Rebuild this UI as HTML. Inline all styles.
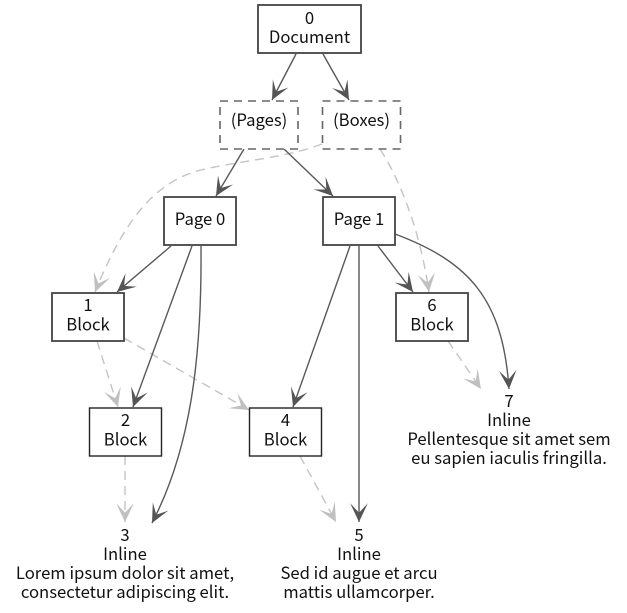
<!DOCTYPE html>
<html><head><meta charset="utf-8"><style>
html,body{margin:0;padding:0;background:#fff}
svg{display:block}
text{font-family:"Noto Sans CJK JP","Liberation Sans",sans-serif;font-size:16.67px;text-anchor:middle;fill:#111}
.e{fill:none;stroke:#595959;stroke-width:1.4}
.d{fill:none;stroke:#c4c4c4;stroke-width:1.4;stroke-dasharray:9 6}
.n{fill:#fff;stroke:#444;stroke-width:1.8}
.k{fill:#fff;stroke:#222;stroke-width:1.4}
.g{fill:#fff;stroke:#666;stroke-width:1.6;stroke-dasharray:8 6}
</style></head><body>
<svg width="627" height="613" viewBox="0 0 627 613" xmlns="http://www.w3.org/2000/svg">
<defs>
<marker id="a" markerUnits="userSpaceOnUse" markerWidth="22" markerHeight="19.800" refX="18" refY="9" orient="auto" viewBox="0 0 20 18"><path d="M18,9 L1,1 Q7,6.500 9.500,9 Q7,11.500 1,17 Z" fill="#555"/></marker>
<marker id="b" markerUnits="userSpaceOnUse" markerWidth="22" markerHeight="19.800" refX="18" refY="9" orient="auto" viewBox="0 0 20 18"><path d="M18,9 L1,1 Q7,6.500 9.500,9 Q7,11.500 1,17 Z" fill="#c0c0c0"/></marker>
</defs>

<path class="d" d="M322,144 C285,158 245,160 205,169 C165,178 130,205 95,292" marker-end="url(#b)"/>
<path class="d" d="M380,149 C400,180 420,230 429,292" marker-end="url(#b)"/>
<path class="d" d="M97,341 L118,407" marker-end="url(#b)"/>
<path class="d" d="M124,338 L249,410" marker-end="url(#b)"/>
<path class="d" d="M125,456 L125,522" marker-end="url(#b)"/>
<path class="d" d="M300,456 L336,522" marker-end="url(#b)"/>
<path class="d" d="M448,341 L481,389" marker-end="url(#b)"/>

<path class="e" d="M296,54 L272,100" marker-end="url(#a)"/>
<path class="e" d="M323,54 L349,100" marker-end="url(#a)"/>
<path class="e" d="M244,149 L216,196" marker-end="url(#a)"/>
<path class="e" d="M284,149 L333,196" marker-end="url(#a)"/>
<path class="e" d="M171,246 L117,292" marker-end="url(#a)"/>
<path class="e" d="M192,246 L133,407" marker-end="url(#a)"/>
<path class="e" d="M201,246 C202,360 190,450 152,523" marker-end="url(#a)"/>
<path class="e" d="M350,246 L293,407" marker-end="url(#a)"/>
<path class="e" d="M359,246 L359,522" marker-end="url(#a)"/>
<path class="e" d="M378,246 L413,292" marker-end="url(#a)"/>
<path class="e" d="M395,234 C470,262 503,300 509,389" marker-end="url(#a)"/>

<rect class="n" x="258" y="5" width="103" height="48"/>
<rect class="g" x="220" y="101" width="78" height="48"/>
<rect class="g" x="322.500" y="101" width="78" height="48"/>
<rect class="n" x="164" y="197" width="72" height="48"/>
<rect class="n" x="323" y="197" width="72" height="48"/>
<rect class="n" x="52" y="293" width="72" height="48"/>
<rect class="k" x="89.500" y="408" width="72" height="48"/>
<rect class="k" x="249.500" y="408" width="72" height="48"/>
<rect class="n" x="396" y="293" width="72" height="48"/>

<text x="309.500" y="24">0</text><text x="309.500" y="43">Document</text>
<text x="259" y="126">(Pages)</text>
<text x="361.500" y="126">(Boxes)</text>
<text x="200" y="225">Page 0</text>
<text x="359" y="225">Page 1</text>
<text x="88" y="311">1</text><text x="88" y="330.500">Block</text>
<text x="125.500" y="426">2</text><text x="125.500" y="445.500">Block</text>
<text x="285.500" y="426">4</text><text x="285.500" y="445.500">Block</text>
<text x="432" y="311">6</text><text x="432" y="330.500">Block</text>
<text x="125" y="541">3</text><text x="125" y="560">Inline</text><text x="125" y="579">Lorem ipsum dolor sit amet,</text><text x="125" y="598">consectetur adipiscing elit.</text>
<text x="359" y="541">5</text><text x="359" y="560">Inline</text><text x="359" y="579">Sed id augue et arcu</text><text x="359" y="598">mattis ullamcorper.</text>
<text x="509" y="407">7</text><text x="509" y="426">Inline</text><text x="509" y="445">Pellentesque sit amet sem</text><text x="509" y="464">eu sapien iaculis fringilla.</text>
</svg>
</body></html>
